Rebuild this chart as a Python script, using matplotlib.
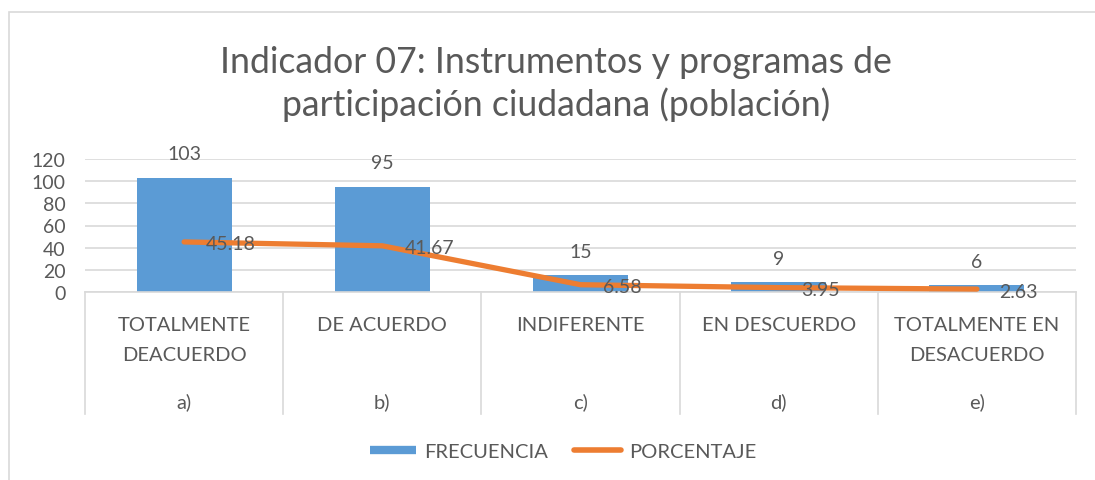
import matplotlib
matplotlib.use("Agg")
import matplotlib.pyplot as plt
from matplotlib.lines import Line2D
from matplotlib.patches import Rectangle

categories_top = ["TOTALMENTE\nDEACUERDO", "DE ACUERDO", "INDIFERENTE", "EN DESCUERDO", "TOTALMENTE EN\nDESACUERDO"]
categories_sub = ["a)", "b)", "c)", "d)", "e)"]
frecuencia = [103, 95, 15, 9, 6]
porcentaje = [45.18, 41.67, 6.58, 3.95, 2.63]
yticks = [0, 20, 40, 60, 80, 100, 120]
title = "Indicador 07: Instrumentos y programas de\nparticipación ciudadana (población)"

BLUE = "#5B9BD5"
ORANGE = "#ED7D31"
TXT = "#595959"
GRID = "#D9D9D9"
FONT = ["Lato", "DejaVu Sans"]
plt.rcParams["font.family"] = FONT

W, H = 1095, 481
fig = plt.figure(figsize=(W / 100, H / 100), dpi=100)
fig.patch.set_facecolor("white")

# chart border (left and top visible)
fig.add_artist(Rectangle((9 / W, -0.1), 1.2, (H - 13) / H + 0.1, transform=fig.transFigure,
                         fill=False, edgecolor="#D9D9D9", lw=1.2))

left, right, top_px, bot_px = 85, 1076, 160, 293
ax = fig.add_axes([left / W, (H - bot_px) / H, (right - left) / W, (bot_px - top_px) / H])
ax.set_xlim(-0.5, len(frecuencia) - 0.5)
ax.set_ylim(0, 120)
ax.set_yticks(yticks)
ax.set_yticklabels([str(v) for v in yticks], fontsize=14, color=TXT)
ax.tick_params(axis="y", length=0, pad=14)
ax.set_xticks([])
for s in ["top", "right", "left"]:
    ax.spines[s].set_visible(False)
ax.spines["bottom"].set_color(GRID)
ax.spines["bottom"].set_linewidth(1.2)
ax.yaxis.grid(True, color=GRID, lw=1.2)
ax.set_axisbelow(True)

x = list(range(len(frecuencia)))
bars = ax.bar(x, frecuencia, width=0.48, color=BLUE, zorder=2)
ax.plot(x, porcentaje, color=ORANGE, lw=3.8, solid_capstyle="round", zorder=3)

for xi, v in zip(x, frecuencia):
    ax.annotate(str(v), xy=(xi, v), xytext=(0, 24), textcoords="offset pixels",
                ha="center", va="center", fontsize=14, color=TXT)
for xi, v in zip(x, porcentaje):
    ax.annotate(f"{v:.2f}", xy=(xi, v), xytext=(22, -2), textcoords="offset pixels",
                ha="left", va="center", fontsize=14, color=TXT, zorder=4)

# multi-level category axis
xt = ax.get_xaxis_transform()
ph = bot_px - top_px
for xi, lab, sub in zip(x, categories_top, categories_sub):
    lines = lab.split("\n")
    for k, ln in enumerate(lines):
        ax.text(xi, -(33 + 30 * k) / ph, ln, transform=xt, ha="center", va="center",
                fontsize=14.5, color=TXT)
    ax.text(xi, -109 / ph, sub, transform=xt, ha="center", va="center", fontsize=14.5, color=TXT)
for b in [i - 0.5 for i in range(len(frecuencia) + 1)]:
    ax.add_line(Line2D([b, b], [0, -122 / ph], transform=xt, color=GRID, lw=1.2, clip_on=False))

# title
fig.text(556 / W, 1 - 84 / H, title, ha="center", va="center", fontsize=25.7, color=TXT,
         linespacing=1.3)

# legend
handles = [Line2D([0], [0], color=BLUE, lw=6, solid_capstyle="butt"),
           Line2D([0], [0], color=ORANGE, lw=4, solid_capstyle="round")]
fig.legend(handles, ["FRECUENCIA", "PORCENTAJE"], loc="center", bbox_to_anchor=(563 / W, 1 - 452 / H),
           ncol=2, frameon=False, fontsize=14.5, labelcolor=TXT, handlelength=2.3,
           handletextpad=0.4, columnspacing=1.3)

fig.savefig("out.png", dpi=100, facecolor="white")
